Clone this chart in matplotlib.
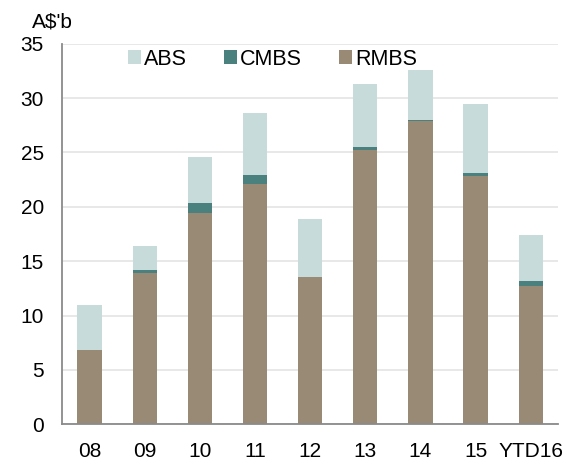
import matplotlib
matplotlib.use("Agg")
import matplotlib.pyplot as plt
import numpy as np

# issuance by year, A$ billions
years = ["08", "09", "10", "11", "12", "13", "14", "15", "YTD16"]
rmbs = [6.8, 13.95, 19.45, 22.1, 13.55, 25.25, 27.85, 22.85, 12.7]
cmbs = [0.0, 0.25, 0.9, 0.85, 0.0, 0.25, 0.15, 0.3, 0.45]
abs_ = [4.15, 2.2, 4.2, 5.7, 5.35, 5.75, 4.55, 6.35, 4.25]

colors = {"ABS": "#c7dbdb", "CMBS": "#4a807e", "RMBS": "#998a76"}

plt.rcParams["font.family"] = ["Liberation Sans", "DejaVu Sans"]

fig = plt.figure(figsize=(5.81, 4.61), dpi=100)
ax = fig.add_axes([0.1067, 0.0796, 0.8543, 0.8256])

x = np.arange(len(years))
w = 0.44
bottom_c = np.array(rmbs)
bottom_a = bottom_c + np.array(cmbs)

b_r = ax.bar(x, rmbs, w, color=colors["RMBS"], zorder=3, label="RMBS")
b_c = ax.bar(x, cmbs, w, bottom=bottom_c, color=colors["CMBS"], zorder=3, label="CMBS")
b_a = ax.bar(x, abs_, w, bottom=bottom_a, color=colors["ABS"], zorder=3, label="ABS")

ax.set_xlim(-0.5, len(years) - 0.5)
ax.set_ylim(0, 35)
ax.set_yticks(range(0, 36, 5))
ax.set_xticks(x)
ax.set_xticklabels(years)

ax.grid(axis="y", color="#e4e4e4", linewidth=1.2, zorder=0)
ax.set_axisbelow(True)
for s in ["top", "right"]:
    ax.spines[s].set_visible(False)
for s in ["left", "bottom"]:
    ax.spines[s].set_color("#8a8a8a")
    ax.spines[s].set_linewidth(1.3)
    ax.spines[s].set_zorder(4)

ax.tick_params(axis="both", length=0, labelsize=15, colors="#000000")
ax.tick_params(axis="y", pad=13)
ax.tick_params(axis="x", pad=13)

fig.text(31.7 / 581, 1 - 27.3 / 461, "A$'b", fontsize=15, ha="left", va="baseline")

leg = ax.legend(handles=[b_a, b_c, b_r], labels=["ABS", "CMBS", "RMBS"],
                ncol=3, frameon=False, loc="center left",
                bbox_to_anchor=(0.1336, 0.959), borderpad=0, borderaxespad=0,
                handlelength=0.6, handleheight=0.6, handletextpad=0.15,
                columnspacing=1.7, fontsize=15.5)

fig.savefig("out.png", dpi=100)
